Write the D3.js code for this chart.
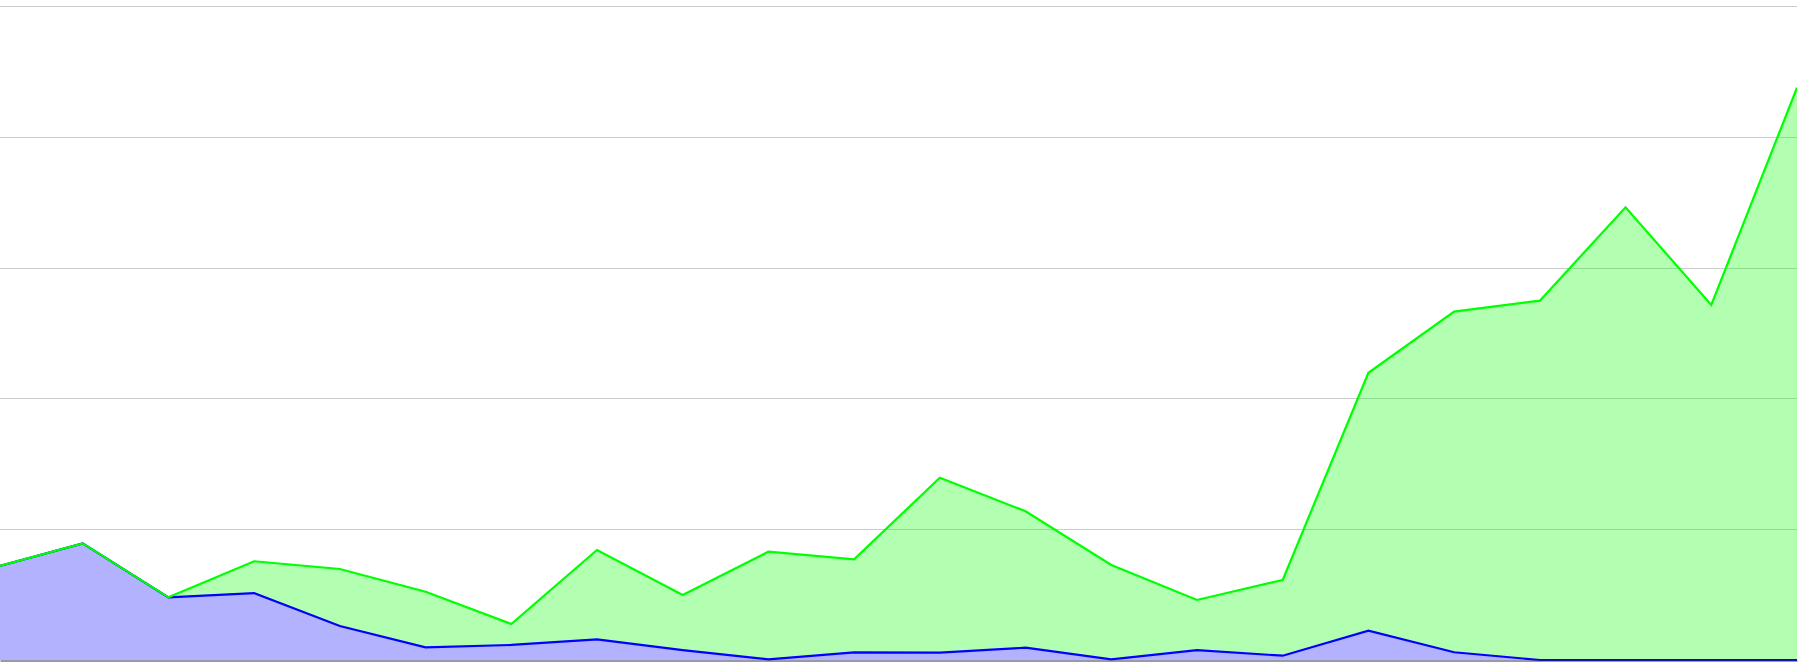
<!DOCTYPE html>
<html>
<head>
<meta charset="utf-8">
<script src="https://cdn.jsdelivr.net/npm/d3@7"></script>
<style>
  html, body { margin: 0; padding: 0; background: #fff; overflow: hidden; }
  svg { display: block; }
</style>
</head>
<body>
<svg id="chart" width="1802" height="665"></svg>
<script>
// ---- data ----
const categories = ["1","2","3","4","5","6","7","8","9","10","11","12","13","14","15","16","17","18","19","20","21","22"];
const blueValues  = [7.13, 8.92, 4.79, 5.12, 2.60, 0.97, 1.15, 1.57, 0.76, 0.05, 0.59, 0.56, 0.94, 0.05, 0.76, 0.33, 2.24, 0.59, 0, 0, 0, 0];
const totalValues = [7.13, 8.92, 4.79, 7.55, 6.96, 5.22, 2.75, 8.41, 4.97, 8.28, 7.70, 13.94, 11.37, 7.26, 4.59, 6.12, 21.96, 26.63, 27.47, 34.61, 27.14, 43.75];
const yTicks = [0, 10, 20, 30, 40, 50];
const seriesKeys = ["blue", "green"];
const seriesColors = { blue: "#0000ff", green: "#00ff00" };

// table for the stack
const table = categories.map((c, i) => ({
  cat: c,
  blue: blueValues[i],
  green: totalValues[i] - blueValues[i]
}));

const svg = d3.select("#chart");
const plotClipW = 1797;
const x = d3.scalePoint().domain(categories).range([-3, 1797]);
const y = d3.scaleLinear().domain([0, 50]).range([660, 6]);

svg.append("defs").append("clipPath").attr("id", "clip")
  .append("rect").attr("x", 0).attr("y", 0).attr("width", plotClipW).attr("height", 665);

// gridlines
svg.append("g")
  .selectAll("line")
  .data(yTicks.slice(1))
  .join("line")
  .attr("x1", 0).attr("x2", plotClipW)
  .attr("y1", d => Math.round(y(d)) + 0.5)
  .attr("y2", d => Math.round(y(d)) + 0.5)
  .attr("stroke", "#cccccc")
  .attr("stroke-width", 1);

const stacked = d3.stack().keys(seriesKeys)(table);

const area = d3.area()
  .x(d => x(d.data.cat))
  .y0(d => y(d[0]))
  .y1(d => y(d[1]));

const line = d3.line()
  .x(d => x(d.data.cat))
  .y(d => y(d[1]));

const plot = svg.append("g").attr("clip-path", "url(#clip)");

plot.append("g").selectAll("path")
  .data(stacked)
  .join("path")
  .attr("d", area)
  .attr("fill", s => seriesColors[s.key])
  .attr("fill-opacity", 0.3);

// bottom axis
svg.append("g")
  .attr("transform", `translate(0,${y(0) + 0.5})`)
  .call(d3.axisBottom(d3.scaleLinear().range([0, plotClipW])).tickSize(0).tickFormat("").ticks(0))
  .call(g => g.select(".domain").attr("stroke", "#333355").attr("stroke-width", 1))
  .call(g => g.selectAll(".tick").remove());

plot.append("g").selectAll("path")
  .data(stacked)
  .join("path")
  .attr("d", line)
  .attr("fill", "none")
  .attr("stroke", s => seriesColors[s.key])
  .attr("stroke-width", 2.2)
  .attr("stroke-linejoin", "miter");
</script>
</body>
</html>
